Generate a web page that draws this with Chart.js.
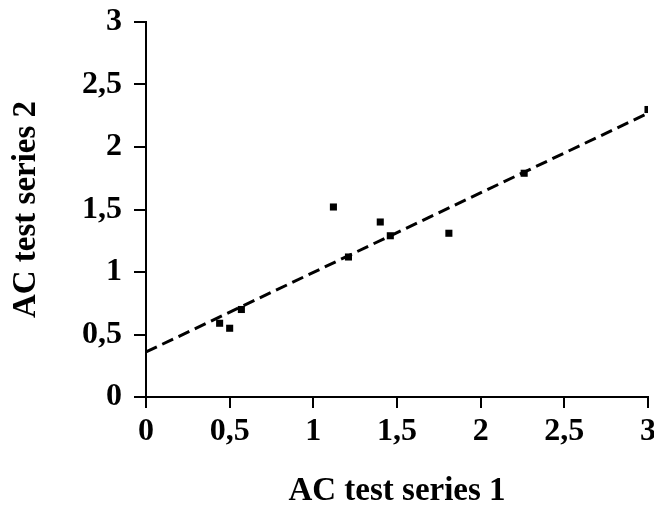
<!DOCTYPE html>
<html>
<head>
<meta charset="utf-8">
<script src="https://cdn.jsdelivr.net/npm/chart.js@4"></script>
<style>
html,body{margin:0;padding:0;background:#fff;}
#wrap{width:654px;height:508px;position:relative;}
</style>
</head>
<body>
<div id="wrap"><canvas id="c" width="654" height="508"></canvas></div>
<script>
// Data
const series1 = [0.44, 0.50, 0.57, 1.12, 1.21, 1.40, 1.46, 1.81, 2.26, 3.00];
const series2 = [0.59, 0.55, 0.70, 1.52, 1.12, 1.40, 1.29, 1.31, 1.79, 2.30];
const trendX = [0, 3];
const trendY = [0.36, 2.27];
const tickValues = [0, 0.5, 1, 1.5, 2, 2.5, 3];
const xTitle = 'AC test series 1';
const yTitle = 'AC test series 2';

const fmt = v => String(v).replace('.', ',');
const FONT = 'Liberation Serif, Times New Roman, serif';

const points = series1.map((x, i) => ({x: x, y: series2[i]}));
const trend = trendX.map((x, i) => ({x: x, y: trendY[i]}));

new Chart(document.getElementById('c'), {
  type: 'scatter',
  data: {
    datasets: [
      {
        type: 'line',
        data: trend,
        borderColor: '#000',
        borderWidth: 3,
        borderDash: [12, 6],
        pointRadius: 0,
        fill: false,
        order: 2
      },
      {
        data: points,
        pointStyle: 'rect',
        pointRadius: 5,
        backgroundColor: '#000',
        borderColor: '#000',
        borderWidth: 0,
        order: 1
      }
    ]
  },
  options: {
    responsive: false,
    animation: false,
    layout: {padding: {left: 0, top: 22, right: 6, bottom: 0}},
    plugins: {legend: {display: false}, tooltip: {enabled: false}},
    scales: {
      x: {
        type: 'linear',
        min: 0, max: 3,
        afterBuildTicks: s => { s.ticks = tickValues.map(v => ({value: v})); },
        afterFit: s => { s.height = 111; s.paddingLeft = 0; s.paddingRight = 0; },
        border: {color: '#000', width: 2},
        grid: {display: true, drawOnChartArea: false, drawTicks: true, tickLength: 11, color: '#000', lineWidth: 2},
        ticks: {
          color: '#000', padding: 5, maxRotation: 0, autoSkip: false,
          font: {family: FONT, size: 32, weight: 'bold'},
          callback: v => fmt(v)
        },
        title: {
          display: true, text: xTitle, color: '#000',
          font: {family: FONT, size: 33, weight: 'bold', lineHeight: 1},
          padding: {top: 0, bottom: 0}
        }
      },
      y: {
        type: 'linear',
        min: 0, max: 3,
        afterBuildTicks: s => { s.ticks = tickValues.map(v => ({value: v})); },
        afterFit: s => { s.width = 146; s.paddingTop = 0; s.paddingBottom = 0; },
        border: {color: '#000', width: 2},
        grid: {display: true, drawOnChartArea: false, drawTicks: true, tickLength: 12, color: '#000', lineWidth: 2},
        ticks: {
          color: '#000', padding: 12, autoSkip: false,
          font: {family: FONT, size: 32, weight: 'bold'},
          callback: v => fmt(v)
        },
        title: {
          display: true, text: yTitle, color: '#000',
          font: {family: FONT, size: 33, weight: 'bold', lineHeight: 1},
          padding: {top: 10, bottom: 0}
        }
      }
    }
  }
});
</script>
</body>
</html>
